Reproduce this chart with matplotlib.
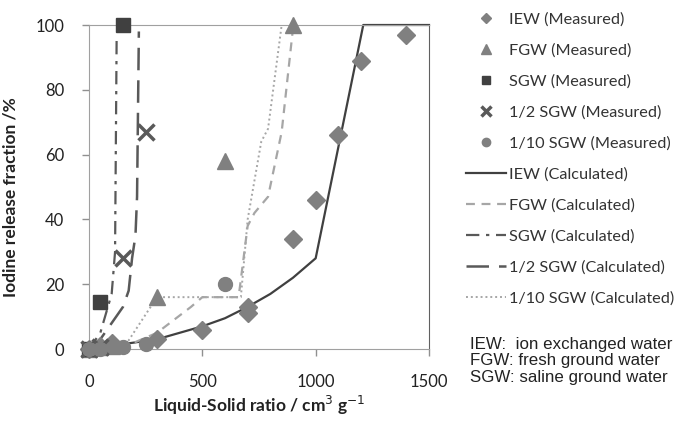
import matplotlib
matplotlib.use("Agg")
import matplotlib.pyplot as plt

plt.rcParams['font.family'] = ['Lato', 'DejaVu Sans']

# Measured data
iew_x = [0, 50, 100, 300, 500, 700, 700, 900, 1000, 1100, 1200, 1400]
iew_y = [0, 1, 2, 3, 6, 13, 11, 34, 46, 66, 89, 97]
fgw_x = [0, 50, 100, 300, 600, 900]
fgw_y = [0, 0.5, 1, 16, 58, 100]
sgw_x = [0, 50, 150]
sgw_y = [0, 14.5, 100]
half_x = [0, 50, 150, 250]
half_y = [0, 0.5, 28, 67]
tenth_x = [0, 50, 150, 250, 600]
tenth_y = [0, 0, 0.5, 1.5, 20]

# Calculated curves
iew_cx = [0, 100, 200, 300, 400, 500, 600, 700, 800, 900, 1000, 1210, 1500]
iew_cy = [0, 1, 2, 3, 5, 7, 9.5, 13, 17, 22, 28, 100, 100]
fgw_cx = [0, 150, 300, 450, 500, 660, 700, 730, 790, 850, 900]
fgw_cy = [0, 0.5, 5, 13, 16, 16, 38, 42, 47, 67, 99]
sgw_cx = [0, 50, 100, 115, 122]
sgw_cy = [0, 5, 17, 30, 97]
half_cx = [0, 50, 100, 150, 175, 190, 205, 212, 220]
half_cy = [0, 3, 8, 13, 18, 28, 35, 47, 98]
tenth_cx = [0, 150, 300, 670, 700, 760, 790, 850]
tenth_cy = [0, 0, 16, 16, 40, 64, 68, 100]

x_ticks = [0, 500, 1000, 1500]
y_ticks = [0, 20, 40, 60, 80, 100]

fig = plt.figure(figsize=(6.77, 4.21), dpi=100)
ax = fig.add_axes([89/677, 1-349/421, (429-89)/677, (349-25)/421])

light = '#a6a6a6'
mid = '#808080'
dark = '#595959'
darker = '#404040'

h1, = ax.plot(iew_x, iew_y, 'D', color=mid, ms=9, ls='none', clip_on=False, label='IEW (Measured)', zorder=4)
h2, = ax.plot(fgw_x, fgw_y, '^', color=mid, ms=11, ls='none', clip_on=False, label='FGW (Measured)', zorder=4)
h3, = ax.plot(sgw_x, sgw_y, 's', color=darker, ms=10, ls='none', clip_on=False, label='SGW (Measured)', zorder=4)
h4, = ax.plot(half_x, half_y, 'x', color=dark, ms=11, mew=2.5, ls='none', clip_on=False, label='1/2 SGW (Measured)', zorder=4)
h5, = ax.plot(tenth_x, tenth_y, 'o', color=mid, ms=10, ls='none', clip_on=False, label='1/10 SGW (Measured)', zorder=4)

l1, = ax.plot(iew_cx, iew_cy, '-', color=darker, lw=1.6, clip_on=False, label='IEW (Calculated)')
l2, = ax.plot(fgw_cx, fgw_cy, color=light, lw=1.6, ls=(0, (4, 3)), label='FGW (Calculated)')
l3, = ax.plot(sgw_cx, sgw_cy, color=dark, lw=1.6, ls=(0, (6, 3, 1.5, 3)), label='SGW (Calculated)')
l4, = ax.plot(half_cx, half_cy, color=dark, lw=1.8, ls=(0, (9, 4)), label='1/2 SGW (Calculated)')
l5, = ax.plot(tenth_cx, tenth_cy, color=light, lw=1.4, ls=(0, (1, 1.5)), label='1/10 SGW (Calculated)')

ax.set_xlim(0, 1500)
ax.set_ylim(0, 100)
ax.set_xticks(x_ticks)
ax.set_yticks(y_ticks)
ax.tick_params(direction='out', length=5, width=1, color='#909090', labelsize=12,
               labelcolor='#222222', pad=13)
for s in ['left', 'bottom', 'top']:
    ax.spines[s].set_color('#a0a0a0')
ax.spines['right'].set_color('#606060')
ax.set_xlabel('Liquid-Solid ratio / cm$^3$ g$^{-1}$', fontsize=12.5, fontweight='bold', labelpad=3, color='#222222')
ax.set_ylabel('Iodine release fraction /%', fontsize=12.5, fontweight='bold', labelpad=12, color='#222222')
ax.yaxis.set_label_coords(-(89-19)/340, 0.47)

handles = [h1, h2, h3, h4, h5, l1, l2, l3, l4, l5]
leg = fig.legend(handles=handles, loc='upper left', bbox_to_anchor=(466/677, 1-12.5/421),
                 frameon=False, fontsize=11.7, handlelength=2.46, handletextpad=0.2,
                 labelspacing=1.02, markerscale=0.6, borderaxespad=0, borderpad=0)
for t in leg.get_texts():
    t.set_color('#333333')

fig.text(470/677, 1-361/421, 'IEW:  ion exchanged water\nFGW: fresh ground water\nSGW: saline ground water',
         family=['Liberation Sans', 'DejaVu Sans'], fontsize=12.2, va='center', ha='left',
         linespacing=1.16, color='#222222')

fig.savefig('out.png', dpi=100)
